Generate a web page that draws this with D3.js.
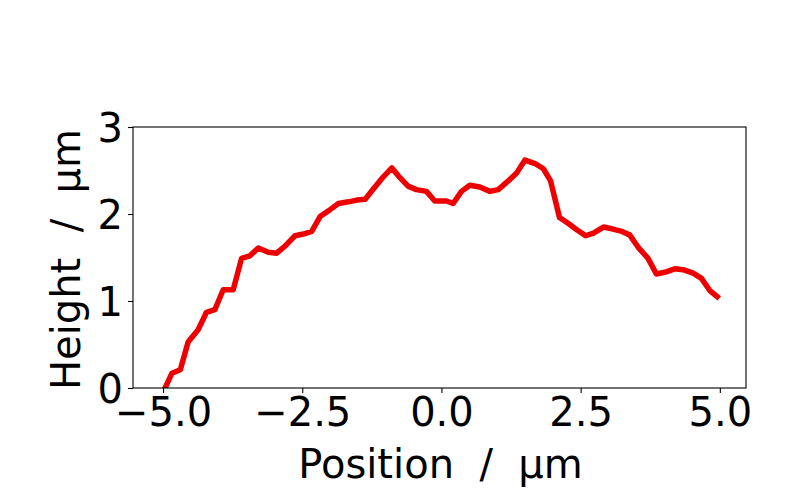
<!DOCTYPE html><html><head><meta charset="utf-8">
<script src="https://cdn.jsdelivr.net/npm/d3@7"></script>
<style>body{margin:0;background:#fff}text{font-family:"DejaVu Sans",sans-serif}</style></head><body>
<svg id="c" width="787" height="501"></svg>
<script>
const xPos=[-5.0,-4.84,-4.69,-4.55,-4.37,-4.22,-4.07,-3.92,-3.74,-3.59,-3.44,-3.29,-3.11,-2.96,-2.81,-2.63,-2.48,-2.33,-2.18,-2.00,-1.85,-1.67,-1.52,-1.37,-1.22,-1.04,-0.89,-0.75,-0.60,-0.45,-0.27,-0.12,-0.03,0.09,0.21,0.36,0.51,0.69,0.87,1.02,1.20,1.35,1.50,1.68,1.83,1.96,2.12,2.28,2.43,2.59,2.73,2.91,3.06,3.24,3.38,3.53,3.71,3.86,4.01,4.19,4.34,4.52,4.67,4.82,4.99];
const heights=[-0.05,0.17,0.21,0.53,0.67,0.87,0.90,1.13,1.13,1.49,1.52,1.61,1.56,1.55,1.63,1.75,1.77,1.80,1.97,2.05,2.12,2.14,2.16,2.17,2.29,2.43,2.53,2.42,2.32,2.28,2.26,2.15,2.15,2.15,2.12,2.26,2.33,2.31,2.26,2.28,2.38,2.47,2.62,2.58,2.52,2.38,1.96,1.89,1.82,1.75,1.78,1.85,1.83,1.80,1.76,1.62,1.49,1.31,1.33,1.37,1.36,1.32,1.26,1.12,1.03];
const xTicks=[-5,-2.5,0,2.5,5];
const yTicks=[0,1,2,3];
const svg=d3.select("#c");
const L=133,R=746,T=127,B=388;
const x=d3.scaleLinear().domain([-5.54,5.47]).range([L,R]);
const y=d3.scaleLinear().domain([0,3]).range([B,T]);
svg.append("defs").append("clipPath").attr("id","cp").append("rect").attr("x",L).attr("y",T).attr("width",R-L).attr("height",B-T);
svg.append("path").datum(xPos.map((v,i)=>[v,heights[i]])).attr("clip-path","url(#cp)")
 .attr("d",d3.line().x(d=>x(d[0])).y(d=>y(d[1]))).attr("fill","none").attr("stroke","#ee0000").attr("stroke-width",5.5).attr("stroke-linejoin","round");
svg.append("rect").attr("x",L).attr("y",T).attr("width",R-L).attr("height",B-T).attr("fill","none").attr("stroke","#000").attr("stroke-width",1.1);
const fmt=d=>d3.format(".1f")(d).replace("-","\u2212");
const xa=svg.append("g").attr("transform",`translate(0,${B})`).call(d3.axisBottom(x).tickValues(xTicks).tickFormat(fmt).tickSize(5).tickPadding(3));
const ya=svg.append("g").attr("transform",`translate(${L},0)`).call(d3.axisLeft(y).tickValues(yTicks).tickFormat(d3.format("d")).tickSize(5).tickPadding(5));
[xa,ya].forEach(a=>{a.select(".domain").remove();a.selectAll("text").attr("font-size",40).attr("font-family","DejaVu Sans").attr("fill","#000");a.selectAll("line").attr("stroke","#000").attr("stroke-width",1.1);});
xa.selectAll("text").attr("dy","0.75em");
ya.selectAll("text").attr("dy","0.36em");
svg.append("text").attr("x",(L+R)/2+1).attr("y",478).attr("text-anchor","middle").attr("font-size",40).text("Position\u00a0 /\u00a0 µm");
svg.append("text").attr("transform",`translate(80,${(T+B)/2+2}) rotate(-90)`).attr("text-anchor","middle").attr("font-size",40).text("Height\u00a0 /\u00a0 µm");
</script></body></html>
